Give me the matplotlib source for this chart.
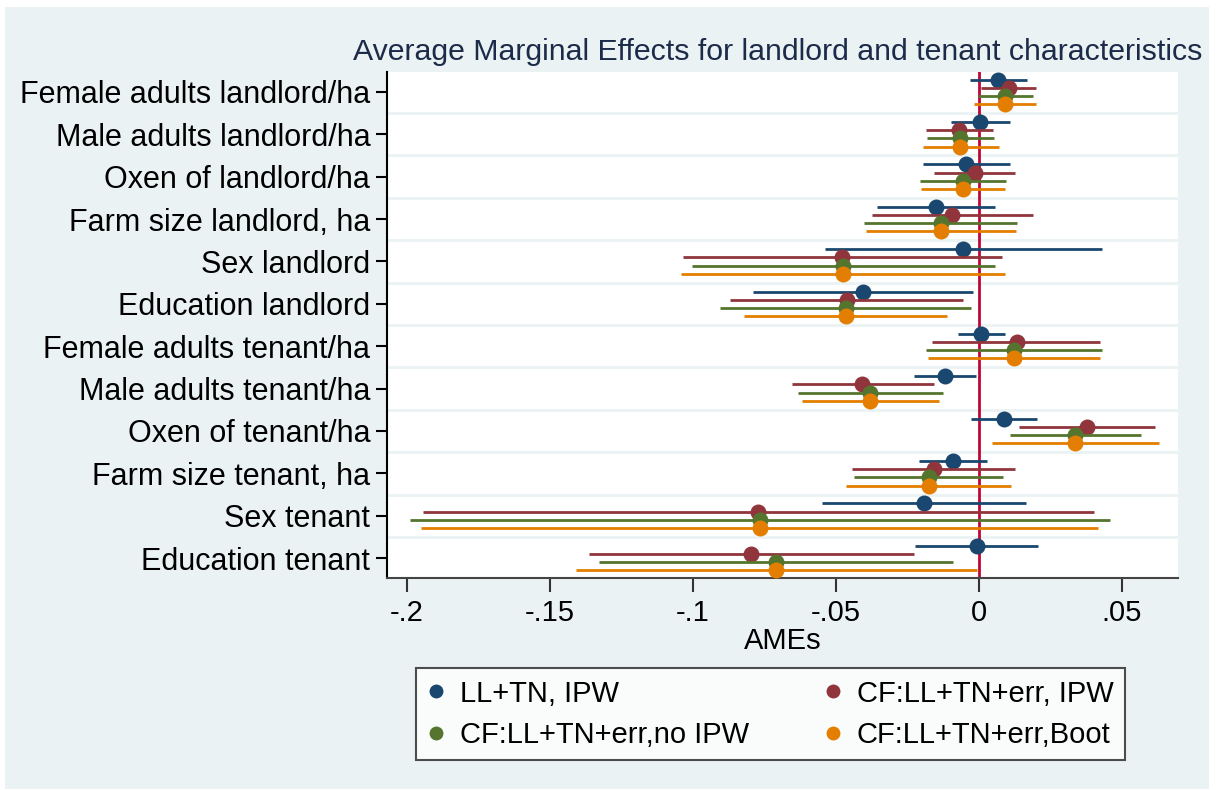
import numpy as np
import matplotlib
matplotlib.use("Agg")
import matplotlib.pyplot as plt
from matplotlib.lines import Line2D
from matplotlib.patches import Rectangle

plt.rcParams['font.family'] = ['Liberation Sans', 'DejaVu Sans']

categories = ["Female adults landlord/ha", "Male adults landlord/ha", "Oxen of landlord/ha",
              "Farm size landlord, ha", "Sex landlord", "Education landlord",
              "Female adults tenant/ha", "Male adults tenant/ha", "Oxen of tenant/ha",
              "Farm size tenant, ha", "Sex tenant", "Education tenant"]

series_names = ["LL+TN, IPW", "CF:LL+TN+err, IPW", "CF:LL+TN+err,no IPW", "CF:LL+TN+err,Boot"]
series_colors = ["#1a476f", "#90353b", "#55752f", "#e37e00"]

# point estimates
est_ipw = [0.0068, 0.0005, -0.0044, -0.0150, -0.0055, -0.0405,
           0.0009, -0.0118, 0.0089, -0.0090, -0.0193, -0.0008]
est_cf_ipw = [0.0104, -0.0070, -0.0015, -0.0093, -0.0477, -0.0462,
              0.0132, -0.0407, 0.0377, -0.0157, -0.0772, -0.0795]
est_cf_noipw = [0.0092, -0.0065, -0.0056, -0.0133, -0.0474, -0.0466,
                0.0122, -0.0379, 0.0337, -0.0176, -0.0766, -0.0710]
est_cf_boot = [0.0093, -0.0065, -0.0056, -0.0133, -0.0474, -0.0466,
               0.0122, -0.0379, 0.0337, -0.0176, -0.0766, -0.0710]

# lower confidence bounds
lo_ipw = [-0.0031, -0.0098, -0.0196, -0.0357, -0.0538, -0.0788,
          -0.0072, -0.0226, -0.0026, -0.0209, -0.0550, -0.0224]
lo_cf_ipw = [0.0009, -0.0186, -0.0156, -0.0374, -0.1034, -0.0870,
             -0.0164, -0.0654, 0.0140, -0.0443, -0.1943, -0.1363]
lo_cf_noipw = [-0.0002, -0.0181, -0.0205, -0.0400, -0.1003, -0.0904,
               -0.0186, -0.0632, 0.0107, -0.0438, -0.1990, -0.1328]
lo_cf_boot = [-0.0016, -0.0196, -0.0204, -0.0395, -0.1041, -0.0821,
              -0.0178, -0.0618, 0.0045, -0.0463, -0.1949, -0.1409]

# upper confidence bounds
hi_ipw = [0.0167, 0.0108, 0.0108, 0.0056, 0.0430, -0.0020,
          0.0091, -0.0010, 0.0204, 0.0029, 0.0163, 0.0205]
hi_cf_ipw = [0.0198, 0.0048, 0.0126, 0.0189, 0.0082, -0.0054,
             0.0425, -0.0157, 0.0615, 0.0126, 0.0402, -0.0227]
hi_cf_noipw = [0.0188, 0.0054, 0.0094, 0.0134, 0.0056, -0.0026,
               0.0431, -0.0126, 0.0566, 0.0086, 0.0460, -0.0089]
hi_cf_boot = [0.0199, 0.0070, 0.0093, 0.0129, 0.0093, -0.0112,
              0.0422, -0.0140, 0.0628, 0.0111, 0.0418, -0.0008]

estimates = [est_ipw, est_cf_ipw, est_cf_noipw, est_cf_boot]
lowers = [lo_ipw, lo_cf_ipw, lo_cf_noipw, lo_cf_boot]
uppers = [hi_ipw, hi_cf_ipw, hi_cf_noipw, hi_cf_boot]
offsets = [-0.29, -0.097, 0.097, 0.29]

bg = "#eaf2f3"

fig = plt.figure(figsize=(12.21, 7.90), dpi=100)
fig.patch.set_facecolor("white")
frame = Rectangle((5 / 1221, 1 / 790), 1204 / 1221, 782 / 790,
                  transform=fig.transFigure, facecolor=bg, edgecolor="none", zorder=-10)
fig.patches.append(frame)

ax = fig.add_axes([387 / 1221, 1 - 578 / 790, (1178 - 387) / 1221, (578 - 72) / 790])
ax.set_facecolor("white")

ypos = np.arange(len(categories))
for k in range(4):
    est = np.array(estimates[k])
    lo = np.array(lowers[k])
    hi = np.array(uppers[k])
    y = ypos + offsets[k]
    ax.hlines(y, lo, hi, color=series_colors[k], lw=2.0, zorder=3 + k)
    ax.plot(est, y, 'o', color=series_colors[k], ms=11.5, mec='none', zorder=3 + k)

ax.axvline(0, color="#c10534", lw=2.0, zorder=2.5)

ax.set_ylim(len(categories) - 1 + 0.47, -0.47)
ax.set_xlim(-0.2069, 0.0696)
ax.set_yticks(ypos)
ax.set_yticklabels(categories, fontsize=22, color="black")
ax.set_yticks(np.arange(len(categories) - 1) + 0.5, minor=True)
ax.tick_params(axis='y', which='minor', length=0)
ax.grid(axis='y', which='minor', color=bg, lw=2.0, zorder=1)
ax.set_axisbelow(True)

xticks = [-0.2, -0.15, -0.1, -0.05, 0, 0.05]
xticklabels = ["-.2", "-.15", "-.1", "-.05", "0", ".05"]
ax.set_xticks(xticks)
ax.set_xticklabels(xticklabels, fontsize=21)
ax.tick_params(axis='x', length=10, width=1.5, color="#333333", pad=5)
ax.tick_params(axis='y', which='major', length=8, width=1.5, color="black", pad=4)
ax.set_xlabel("AMEs", fontsize=21, labelpad=0)

for s in ["top", "right"]:
    ax.spines[s].set_visible(False)
ax.spines["left"].set_color("black")
ax.spines["left"].set_linewidth(1.5)
ax.spines["bottom"].set_color("#444444")
ax.spines["bottom"].set_linewidth(1.5)

fig.text(353 / 1221, 1 - 52 / 790,
         "Average Marginal Effects for landlord and tenant characteristics",
         fontsize=21.8, color="#1c2b4a", ha="left", va="center")

handles = [Line2D([], [], ls='none', marker='o', ms=10, mec='none', color=c)
           for c in series_colors]
order = [0, 2, 1, 3]
leg = fig.legend([handles[i] for i in order], [series_names[i] for i in order],
                 ncol=2, loc="upper left", bbox_to_anchor=(416 / 1221, 1 - 668 / 790),
                 frameon=True, fancybox=False, edgecolor="#222222",
                 prop={'size': 21}, handlelength=0.6, handletextpad=0.5,
                 borderpad=0.4, labelspacing=0.45, columnspacing=2.6,
                 borderaxespad=0)
leg.get_frame().set_linewidth(1.5)

fig.savefig("out.png", dpi=100, facecolor=fig.get_facecolor())
